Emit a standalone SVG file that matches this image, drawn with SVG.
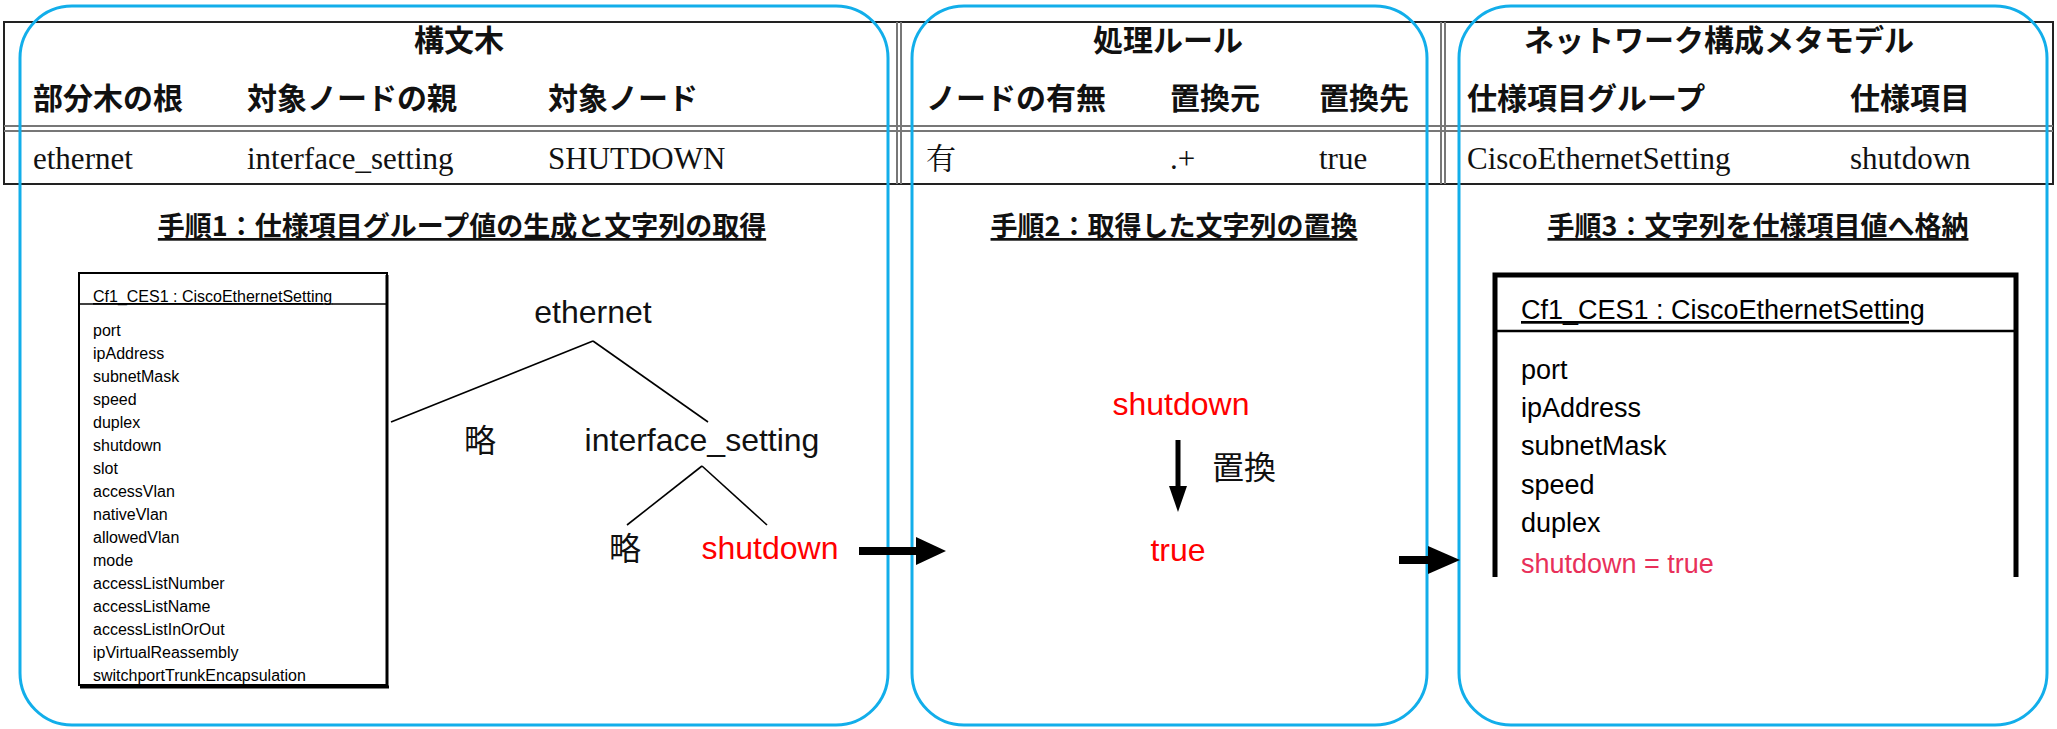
<svg xmlns="http://www.w3.org/2000/svg" width="2057" height="729" viewBox="0 0 2057 729">
<style>
.hd{font-family:"Noto Sans CJK JP","Noto Sans",sans-serif;font-weight:bold;font-size:30px;fill:#111}
.dt{font-family:"Liberation Serif","Noto Sans CJK JP",serif;font-size:31px;fill:#111}
.dtj{font-family:"Noto Serif CJK JP","Noto Sans CJK JP",serif;font-size:30px;fill:#111}
.st{font-family:"Noto Sans CJK JP",sans-serif;font-weight:bold;font-size:27px;fill:#111;text-decoration:underline}
.blue{fill:none;stroke:#12AEEA;stroke-width:3}
.u1{font-family:"Liberation Sans",Arial,sans-serif;font-size:16px;fill:#000}
.u2{font-family:"Liberation Sans",Arial,sans-serif;font-size:27px;fill:#000}
.tr{font-family:"Liberation Sans","Noto Sans CJK JP",sans-serif;font-size:32px;fill:#111}
.red{fill:#FF0000}
.ln{stroke:#000;stroke-width:1.6;fill:none}
.ar{fill:#000}
</style>
<rect width="2057" height="729" fill="#fff"/>
<g id="table">
<rect x="4" y="22" width="2049" height="162" fill="none" stroke="#222" stroke-width="2"/>
<line x1="4" y1="126" x2="2053" y2="126" stroke="#777" stroke-width="2"/>
<line x1="4" y1="131" x2="2053" y2="131" stroke="#777" stroke-width="2"/>
<line x1="897" y1="22" x2="897" y2="184" stroke="#777" stroke-width="2"/>
<line x1="901" y1="22" x2="901" y2="184" stroke="#777" stroke-width="2"/>
<line x1="1441" y1="22" x2="1441" y2="184" stroke="#777" stroke-width="2"/>
<line x1="1445" y1="22" x2="1445" y2="184" stroke="#777" stroke-width="2"/>
<text class="hd" x="459" y="51" text-anchor="middle">構文木</text>
<text class="hd" x="33" y="109">部分木の根</text>
<text class="hd" x="247" y="109">対象ノードの親</text>
<text class="hd" x="548" y="109">対象ノード</text>
<text class="dt" x="33" y="169">ethernet</text>
<text class="dt" x="247" y="169">interface_setting</text>
<text class="dt" x="548" y="169">SHUTDOWN</text>
<text class="hd" x="1168" y="51" text-anchor="middle">処理ルール</text>
<text class="hd" x="926" y="109">ノードの有無</text>
<text class="hd" x="1170" y="109">置換元</text>
<text class="hd" x="1319" y="109">置換先</text>
<text class="dtj" x="926" y="169">有</text>
<text class="dt" x="1170" y="169">.+</text>
<text class="dt" x="1319" y="169">true</text>
<text class="hd" x="1719" y="51" text-anchor="middle">ネットワーク構成メタモデル</text>
<text class="hd" x="1467" y="109">仕様項目グループ</text>
<text class="hd" x="1850" y="109">仕様項目</text>
<text class="dt" x="1467" y="169">CiscoEthernetSetting</text>
<text class="dt" x="1850" y="169">shutdown</text>
</g>
<g id="step1">
<rect class="blue" x="20" y="6" width="868" height="719" rx="52"/>
<text class="st" x="462" y="236" text-anchor="middle">手順1：仕様項目グループ値の生成と文字列の取得</text>
<rect x="79" y="273" width="308" height="412" fill="#fff" stroke="#000" stroke-width="2"/>
<line x1="387" y1="275" x2="387" y2="687" stroke="#000" stroke-width="3"/>
<line x1="80" y1="687" x2="389" y2="687" stroke="#000" stroke-width="3"/>
<line x1="79" y1="304" x2="387" y2="304" stroke="#000" stroke-width="1.5"/>
<text class="u1" x="93" y="302" text-decoration="underline">Cf1_CES1 : CiscoEthernetSetting</text>
<g class="u1">
<text x="93" y="336">port</text><text x="93" y="359">ipAddress</text><text x="93" y="382">subnetMask</text><text x="93" y="405">speed</text>
<text x="93" y="428">duplex</text><text x="93" y="451">shutdown</text><text x="93" y="474">slot</text><text x="93" y="497">accessVlan</text>
<text x="93" y="520">nativeVlan</text><text x="93" y="543">allowedVlan</text><text x="93" y="566">mode</text><text x="93" y="589">accessListNumber</text>
<text x="93" y="612">accessListName</text><text x="93" y="635">accessListInOrOut</text><text x="93" y="658">ipVirtualReassembly</text><text x="93" y="681">switchportTrunkEncapsulation</text>
</g>
<text class="tr" x="593" y="323" text-anchor="middle">ethernet</text>
<line class="ln" x1="593" y1="341" x2="391" y2="422"/>
<line class="ln" x1="593" y1="341" x2="708" y2="422"/>
<text class="tr" x="480" y="452" text-anchor="middle">略</text>
<text class="tr" x="702" y="451" text-anchor="middle">interface_setting</text>
<line class="ln" x1="702" y1="466" x2="627" y2="525"/>
<line class="ln" x1="702" y1="466" x2="767" y2="525"/>
<text class="tr" x="625" y="560" text-anchor="middle">略</text>
<text class="tr red" x="770" y="559" text-anchor="middle">shutdown</text>
</g>
<g id="step2">
<rect class="blue" x="912" y="6" width="515" height="719" rx="52"/>
<text class="st" x="1174" y="236" text-anchor="middle">手順2：取得した文字列の置換</text>
<text class="tr red" x="1181" y="415" text-anchor="middle" font-size="36">shutdown</text>
<text class="tr" x="1244" y="479" text-anchor="middle">置換</text>
<text class="tr red" x="1178" y="561" text-anchor="middle" font-size="36">true</text>
</g>
<g id="step3">
<rect class="blue" x="1459" y="6" width="588" height="719" rx="52"/>
<text class="st" x="1758" y="236" text-anchor="middle">手順3：文字列を仕様項目値へ格納</text>
<path d="M1495,577 V275 H2016 V577" fill="none" stroke="#000" stroke-width="5"/>
<line x1="1495" y1="331" x2="2016" y2="331" stroke="#000" stroke-width="2.5"/>
<text class="u2" x="1521" y="319" text-decoration="underline">Cf1_CES1 : CiscoEthernetSetting</text>
<text class="u2" x="1521" y="379">port</text>
<text class="u2" x="1521" y="417">ipAddress</text>
<text class="u2" x="1521" y="455">subnetMask</text>
<text class="u2" x="1521" y="494">speed</text>
<text class="u2" x="1521" y="532">duplex</text>
<text class="u2" x="1521" y="573" style="fill:#E8305A">shutdown = true</text>
</g>
<g id="connectors">
<line x1="859" y1="551" x2="920" y2="551" stroke="#000" stroke-width="8"/>
<polygon class="ar" points="916,537 946,551 916,565"/>
<line x1="1178" y1="440" x2="1178" y2="490" stroke="#000" stroke-width="5"/>
<polygon class="ar" points="1169,486 1187,486 1178,512"/>
<line x1="1399" y1="560" x2="1432" y2="560" stroke="#000" stroke-width="8"/>
<polygon class="ar" points="1428,546 1460,560 1428,574"/>
</g>
</svg>
